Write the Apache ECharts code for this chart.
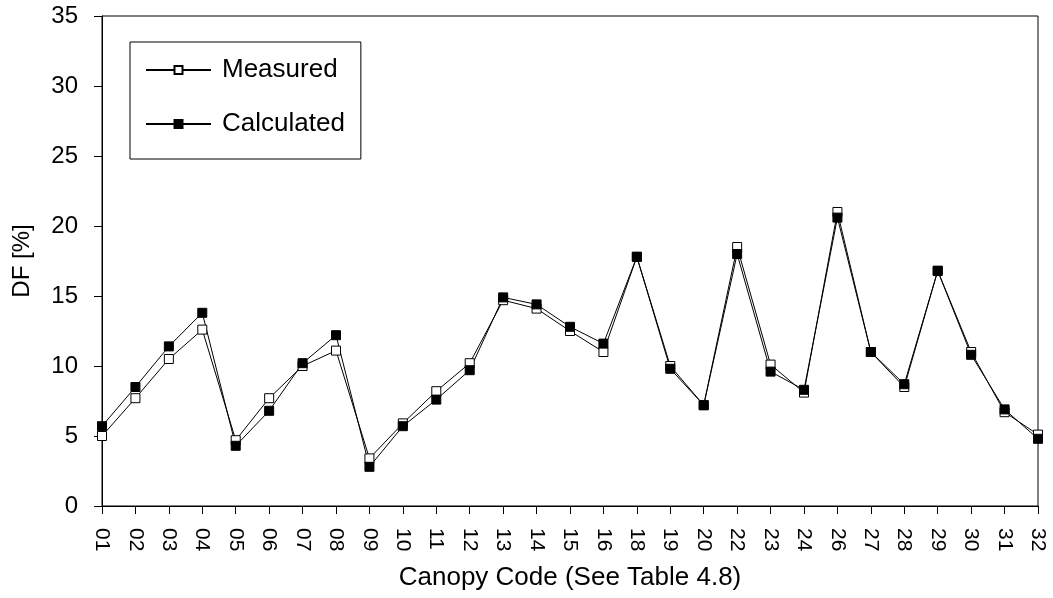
<!DOCTYPE html>
<html>
<head>
<meta charset="utf-8">
<script src="https://cdn.jsdelivr.net/npm/echarts@6/dist/echarts.min.js"></script>
<style>
  html, body { margin: 0; padding: 0; background: #fff; }
  #chart { width: 1053px; height: 598px; }
</style>
</head>
<body>
<div id="chart"></div>
<script>
// Canopy codes along the x axis
const canopyCodes = ['01','02','03','04','05','06','07','08','09','10','11','12','13','14','15','16',
  '18','19','20','22','23','24','26','27','28','29','30','31','32'];

// Daylight factor (%) per canopy
const measured = [5.0, 7.7, 10.5, 12.6, 4.7, 7.7, 10.0, 11.1, 3.4, 5.9, 8.2, 10.2, 14.7, 14.1, 12.5, 11.0,
  17.8, 10.0, 7.2, 18.5, 10.1, 8.1, 21.0, 11.0, 8.5, 16.8, 11.0, 6.7, 5.1];
const calculated = [5.7, 8.5, 11.4, 13.8, 4.3, 6.8, 10.2, 12.2, 2.8, 5.7, 7.6, 9.7, 14.9, 14.4, 12.8, 11.6,
  17.8, 9.8, 7.2, 18.0, 9.6, 8.3, 20.6, 11.0, 8.7, 16.8, 10.8, 6.9, 4.8];

const FONT = '"Liberation Sans", Arial, sans-serif';

const chart = echarts.init(document.getElementById('chart'), null, { renderer: 'canvas' });

chart.setOption({
  backgroundColor: '#ffffff',
  animation: false,
  textStyle: { fontFamily: FONT, color: '#000' },
  grid: {
    left: 102, right: 15, top: 16, bottom: 92,
    show: true, borderColor: '#000', borderWidth: 1
  },
  legend: {
    orient: 'vertical',
    left: 130, top: 42,
    padding: [14, 16, 21, 15],
    borderColor: '#000', borderWidth: 1,
    itemWidth: 65, itemHeight: 10, itemGap: 26,
    textStyle: { fontFamily: FONT, fontSize: 26, color: '#000', lineHeight: 28, padding: [0, 0, 0, 6] },
    data: ['Measured', 'Calculated']
  },
  xAxis: {
    type: 'category',
    data: canopyCodes,
    boundaryGap: false,
    name: 'Canopy Code (See Table 4.8)',
    nameLocation: 'middle',
    nameGap: 59,
    nameTextStyle: { fontFamily: FONT, fontSize: 26, color: '#000' },
    axisLine: { lineStyle: { color: '#000', width: 1 } },
    axisTick: { alignWithLabel: true, length: 8, lineStyle: { color: '#000' } },
    axisLabel: { rotate: -90, margin: 22, fontFamily: FONT, fontSize: 21, color: '#000', interval: 0 },
    splitLine: { show: false }
  },
  yAxis: {
    type: 'value',
    min: 0, max: 35, interval: 5,
    name: 'DF [%]',
    nameLocation: 'middle',
    nameGap: 68,
    nameTextStyle: { fontFamily: FONT, fontSize: 24, color: '#000' },
    axisLine: { show: true, lineStyle: { color: '#000', width: 1 } },
    axisTick: { show: true, length: 8, lineStyle: { color: '#000' } },
    axisLabel: { margin: 24, fontFamily: FONT, fontSize: 24, color: '#000' },
    splitLine: { show: false }
  },
  series: [
    {
      name: 'Measured',
      type: 'line',
      data: measured,
      symbol: 'rect',
      symbolSize: 9,
      showAllSymbol: true,
      lineStyle: { color: '#000', width: 1 },
      itemStyle: { color: '#fff', borderColor: '#000', borderWidth: 1 }
    },
    {
      name: 'Calculated',
      type: 'line',
      data: calculated,
      symbol: 'rect',
      symbolSize: 9,
      showAllSymbol: true,
      lineStyle: { color: '#000', width: 1 },
      itemStyle: { color: '#000', borderColor: '#000', borderWidth: 1 }
    }
  ]
});
</script>
</body>
</html>
